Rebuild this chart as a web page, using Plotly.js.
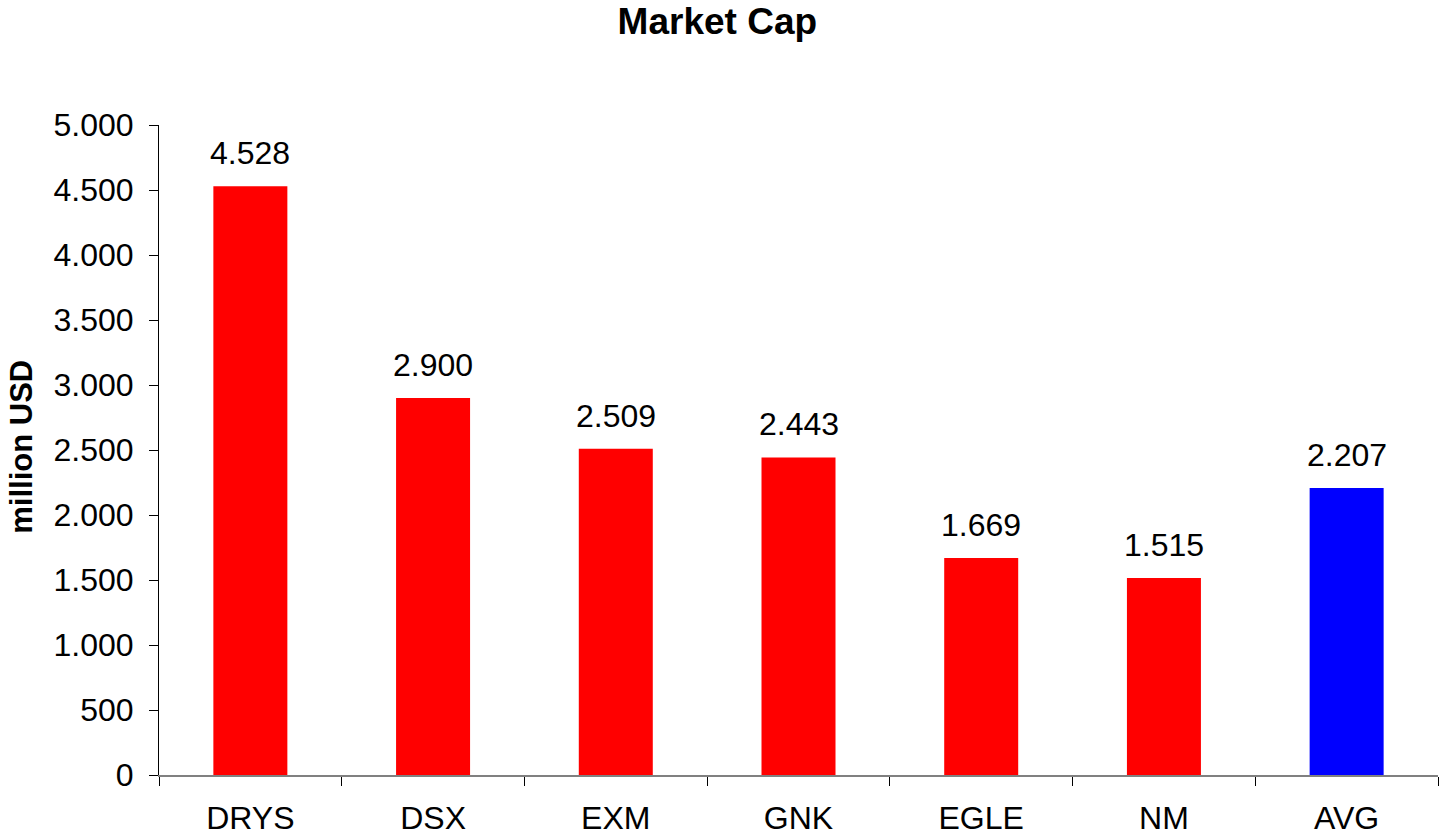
<!DOCTYPE html>
<html>
<head>
<meta charset="utf-8">
<script src="https://cdn.plot.ly/plotly-3.0.1.min.js"></script>
<style>html,body{margin:0;padding:0;background:#fff;}#chart{width:1439px;height:837px;}</style>
</head>
<body>
<div id="chart"></div>
<script>
const categories = ["DRYS", "DSX", "EXM", "GNK", "EGLE", "NM", "AVG"];
const marketCap = [4528, 2900, 2509, 2443, 1669, 1515, 2207];
const barColors = ["#FF0000", "#FF0000", "#FF0000", "#FF0000", "#FF0000", "#FF0000", "#0000FF"];
const yTickVals = [0, 500, 1000, 1500, 2000, 2500, 3000, 3500, 4000, 4500, 5000];
const yTickText = ["0", "500", "1.000", "1.500", "2.000", "2.500", "3.000", "3.500", "4.000", "4.500", "5.000"];

const fmt = v => v >= 1000 ? Math.floor(v / 1000) + "." + String(v % 1000).padStart(3, "0") : String(v);
const font = "Liberation Sans, Arial, sans-serif";

const trace = {
  type: "bar",
  x: categories,
  y: marketCap,
  marker: { color: barColors, line: { width: 0 } },
  hoverinfo: "x+y"
};

const annotations = categories.map((c, i) => ({
  x: c, y: marketCap[i], xref: "x", yref: "y",
  text: fmt(marketCap[i]),
  showarrow: false, yanchor: "bottom", yshift: 13,
  font: { family: font, size: 32, color: "#000" }
}));
annotations.push({
  x: 0, xref: "paper", y: 0.505, yref: "paper",
  xanchor: "center", yanchor: "middle", xshift: -137,
  textangle: -90, showarrow: false,
  text: "<b>million USD</b>",
  font: { family: font, size: 31, color: "#000" }
});

const layout = {
  width: 1439, height: 837,
  paper_bgcolor: "#fff", plot_bgcolor: "#fff",
  margin: { l: 159, r: 1, t: 125, b: 62 },
  showlegend: false,
  bargap: 0.595,
  title: { text: "<b>Market Cap</b>", x: 0.4985, xref: "container", xanchor: "center", y: 0.975, yref: "container", yanchor: "middle",
           font: { family: font, size: 37, color: "#000" } },
  xaxis: {
    type: "category",
    range: [-0.5, 6.5],
    showline: true, linecolor: "#808080", linewidth: 2,
    ticks: "outside", tickson: "boundaries", ticklen: 9, tickcolor: "#000", tickwidth: 1,
    ticklabelstandoff: 14,
    tickfont: { family: font, size: 32, color: "#000" },
    showgrid: false, zeroline: false, fixedrange: true
  },
  yaxis: {
    range: [0, 5000],
    tickmode: "array", tickvals: yTickVals, ticktext: yTickText,
    showline: true, linecolor: "#000", linewidth: 1,
    ticks: "outside", ticklen: 9, tickcolor: "#000", tickwidth: 1,
    ticklabelstandoff: 9,
    tickfont: { family: font, size: 32, color: "#000" },
    showgrid: false, zeroline: false, fixedrange: true
  },
  annotations: annotations
};

Plotly.newPlot("chart", [trace], layout, { displayModeBar: false, staticPlot: true });
</script>
</body>
</html>
